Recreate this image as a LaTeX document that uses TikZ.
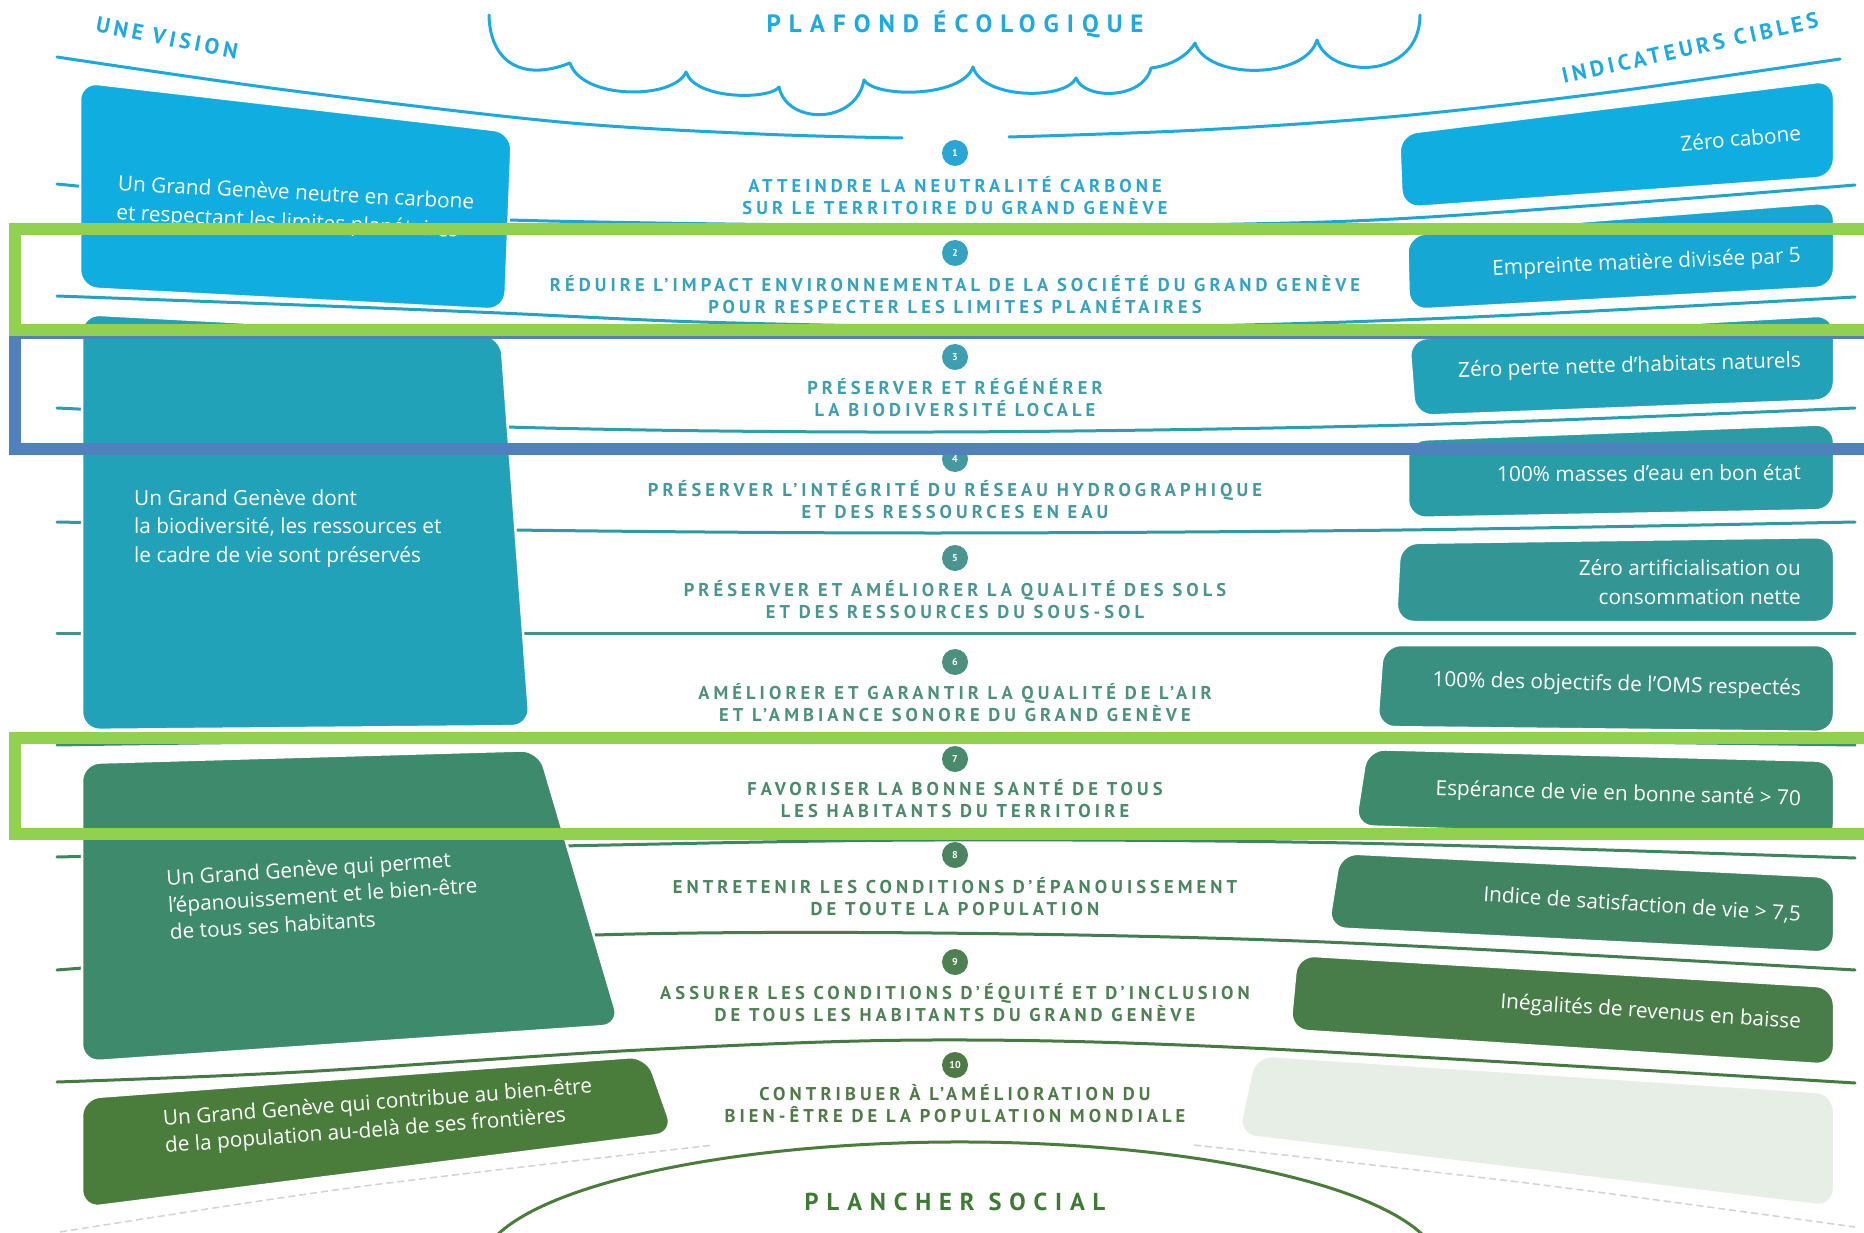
\documentclass[tikz,border=0pt]{standalone}
\usepackage{fontspec}
\setmainfont{Open Sans}
\newfontfamily\capsfont[LetterSpace=22]{PT Sans}
\newfontfamily\headfont[LetterSpace=32]{PT Sans}
\newfontfamily\sidefont[LetterSpace=18]{PT Sans}
\newfontfamily\numfont{PT Sans}
\definecolor{cA}{HTML}{10AEE0}
\definecolor{cRb}{HTML}{16A8D3}
\definecolor{cB}{HTML}{21A2B8}
\definecolor{cRd}{HTML}{2A9CA6}
\definecolor{cRe}{HTML}{339694}
\definecolor{cRf}{HTML}{3A9080}
\definecolor{cC}{HTML}{3E8A6C}
\definecolor{cRh}{HTML}{418462}
\definecolor{cRi}{HTML}{487C48}
\definecolor{cD}{HTML}{4A7D3C}
\definecolor{cRj}{HTML}{E7EEE5}
\definecolor{tA}{HTML}{2AA6D6}
\definecolor{tB}{HTML}{34A2C0}
\definecolor{tC}{HTML}{3D9FAF}
\definecolor{tD}{HTML}{43999F}
\definecolor{tE}{HTML}{4A9590}
\definecolor{tF}{HTML}{4C907E}
\definecolor{tG}{HTML}{4A8A6C}
\definecolor{tH}{HTML}{4A855F}
\definecolor{tI}{HTML}{4D8152}
\definecolor{tJ}{HTML}{4E7B45}
\definecolor{plaf}{HTML}{1DA9E1}
\definecolor{planch}{HTML}{3E7A33}
\definecolor{sA}{HTML}{1CA9DD}
\definecolor{sB}{HTML}{1FA6D0}
\definecolor{sC}{HTML}{22A3C2}
\definecolor{sD}{HTML}{29A0B0}
\definecolor{sE}{HTML}{2F9AA2}
\definecolor{sF}{HTML}{3E9590}
\definecolor{sG}{HTML}{3F8C70}
\definecolor{sH}{HTML}{3F8560}
\definecolor{sI}{HTML}{427E50}
\definecolor{sJ}{HTML}{467A42}
\definecolor{hlgreen}{HTML}{92D050}
\definecolor{hlblue}{HTML}{4F81BD}
\tikzset{
  sepline/.style={line width=3, line cap=round},
  faint/.style={line width=1.5, gray!35, dash pattern=on 7pt off 4pt},
  boxshape/.style={draw=white, line width=2.5, rounded corners=18},
  boxtxt/.style={text=white, inner sep=0, font=\fontsize{20.8}{24}\selectfont},
  lab/.style={align=center, inner sep=0, font=\capsfont\bfseries\fontsize{18.5}{22}\selectfont},
  numc/.style={circle, minimum size=26, inner sep=0, text=white, font=\numfont\bfseries\fontsize{10}{10}\selectfont},
  head/.style={inner sep=0, font=\headfont\bfseries\fontsize{25}{26}\selectfont, text=plaf},
  side/.style={inner sep=0, font=\sidefont\bfseries\fontsize{22}{24}\selectfont, text=plaf},
  hlbox/.style={line width=12}
}
\begin{document}
\begin{tikzpicture}[x=1pt, y=-1pt]
\useasboundingbox (0,0) rectangle (1864,1233);
\fill[white] (0,0) rectangle (1864,1233);
\clip (0,0) rectangle (1864,1233);

% separators
\draw[sepline, sA] plot[smooth, tension=0.55] coordinates {(57,57) (286,90) (560,122) (760,134) (902,138)};
\draw[sepline, sA] plot[smooth, tension=0.55] coordinates {(1009,137) (1200,130) (1400,116) (1611,92) (1840,59)};
\draw[sepline, sB] plot[smooth, tension=0.55] coordinates {(57,184) (300,207) (509,220) (955,226) (1325,222) (1600,205) (1855,185)};
\draw[sepline, sC] plot[smooth, tension=0.55] coordinates {(57,296) (300,305) (500,313) (700,322) (955,327) (1200,326) (1473,317) (1855,297)};
\draw[sepline, sD] plot[smooth, tension=0.55] coordinates {(57,408) (506,427) (933,432) (1408,425) (1855,408)};
\draw[sepline, sE] plot[smooth, tension=0.55] coordinates {(57,522) (512,530) (933,533) (1402,530) (1855,522)};
\draw[sepline, sF] (57,633) -- (1855,633);
\draw[sepline, sG] plot[smooth, tension=0.55] coordinates {(57,745) (300,742) (933,738) (1500,741) (1855,745)};
\draw[sepline, sH] plot[smooth, tension=0.55] coordinates {(57,857) (560,846) (933,840) (1350,843) (1855,858)};
\draw[sepline, sI] plot[smooth, tension=0.55] coordinates {(57,970) (300,952) (595,935) (933,933) (1325,942) (1855,970)};
\draw[sepline, sJ] plot[smooth, tension=0.55] coordinates {(57,1082) (300,1072) (640,1050) (930,1040) (1250,1048) (1855,1083)};
\draw[sepline, cD] (960,1268.5) ++(194:480 and 126.5) arc[start angle=194, end angle=346, x radius=480, y radius=126.5];
\draw[faint] plot[smooth] coordinates {(60,1232) (357,1187) (714,1145)};
\draw[faint] plot[smooth] coordinates {(1194,1145) (1527,1183) (1855,1227)};

% left boxes
\path[boxshape, fill=cA] (80,82) -- (512,132) -- (505,310) -- (80,288) -- cycle;
\path[boxshape, fill=cB] (82,314) -- (501,336) -- (530,726) -- (82,730) -- cycle;
\path[boxshape, fill=cC] (82,763) -- (539,750) -- (620,1025) -- (82,1062) -- cycle;
\path[boxshape, fill=cD] (82,1098) -- (647,1056) -- (674,1133) -- (82,1208) -- cycle;

% right boxes
\path[boxshape, fill=cA]  (1399,134) -- (1834,80) -- (1834,177) -- (1402,208) -- cycle;
\path[boxshape, fill=cRb] (1407,235) -- (1834,202) -- (1834,287) -- (1409,310) -- cycle;
\path[boxshape, fill=cB]  (1409,339) -- (1834,315) -- (1834,400) -- (1415,416) -- cycle;
\path[boxshape, fill=cRd] (1408,440) -- (1834,424) -- (1834,510) -- (1408,518) -- cycle;
\path[boxshape, fill=cRe] (1400,543) -- (1834,537) -- (1834,622) -- (1396,622) -- cycle;
\path[boxshape, fill=cRf] (1383,645) -- (1834,645) -- (1834,732) -- (1377,727) -- cycle;
\path[boxshape, fill=cC]  (1367,749) -- (1834,761) -- (1834,842) -- (1355,826) -- cycle;
\path[boxshape, fill=cRh] (1340,853) -- (1834,877) -- (1834,953) -- (1328,928) -- cycle;
\path[boxshape, fill=cRi] (1297,955) -- (1834,987) -- (1834,1065) -- (1290,1030) -- cycle;
\path[boxshape, fill=cRj] (1255,1055) -- (1834,1093) -- (1834,1207) -- (1238,1135) -- cycle;

% left box texts
\node[boxtxt, align=left, anchor=west, rotate=-3, font=\fontsize{20.8}{29}\selectfont] (la) at (117,199.5) {Un Grand Genève neutre en carbone\\et respectant les limites planétaires};
\node[boxtxt, align=left, anchor=west, font=\fontsize{20.8}{28.5}\selectfont] (lb) at (134,528.5) {Un Grand Genève dont\\la biodiversité, les ressources et\\le cadre de vie sont préservés};
\node[boxtxt, align=left, anchor=west, rotate=3.7, font=\fontsize{20.8}{27}\selectfont] (lc) at (168,905) {Un Grand Genève qui permet\\l’épanouissement et le bien-être\\de tous ses habitants};
\node[boxtxt, align=left, anchor=west, rotate=4.4, font=\fontsize{20.8}{27}\selectfont] (ld) at (164,1134) {Un Grand Genève qui contribue au bien-être\\de la population au-delà de ses frontières};

% right box texts
\node[boxtxt, anchor=east, rotate=4.9] (r1) at (1801,133) {Zéro cabone};
\node[boxtxt, anchor=east, rotate=2.4] (r2) at (1801,257) {Empreinte matière divisée par 5};
\node[boxtxt, anchor=east, rotate=1.6] (r3) at (1801,362) {Zéro perte nette d’habitats naturels};
\node[boxtxt, anchor=east, rotate=0.4] (r4) at (1801,472) {100\% masses d’eau en bon état};
\node[boxtxt, align=right, anchor=east, font=\fontsize{20.8}{29}\selectfont] (r5) at (1801,582.5) {Zéro artificialisation ou\\consommation nette};
\node[boxtxt, anchor=east, rotate=-1.4] (r6) at (1801,690) {100\% des objectifs de l’OMS respectés};
\node[boxtxt, anchor=east, rotate=-1.6] (r7) at (1801,800) {Espérance de vie en bonne santé > 70};
\node[boxtxt, anchor=east, rotate=-3.6] (r8) at (1801,915) {Indice de satisfaction de vie > 7,5};
\node[boxtxt, anchor=east, rotate=-3.8] (r9) at (1801,1023) {Inégalités de revenus en baisse};

% cloud
\draw[plaf, line width=3, line cap=round, line join=round] (489,15)
 .. controls (490,62) and (522,82) .. (570,63)
 .. controls (582,100) and (674,100) .. (686,72)
 .. controls (695,100) and (770,100) .. (779,87)
 .. controls (787,125) and (856,125) .. (864,80)
 .. controls (875,98) and (962,98) .. (973,67)
 .. controls (983,100) and (1066,100) .. (1076,78)
 .. controls (1084,100) and (1143,100) .. (1151,68)
 .. controls (1168,66) and (1186,58) .. (1195,43)
 .. controls (1207,80) and (1305,80) .. (1317,40)
 .. controls (1330,80) and (1420,80) .. (1420,15);

% headings
\node[head] (plafond) at (955,24) {PLAFOND ÉCOLOGIQUE};
\node[side, rotate=-11] (vision) at (167,38) {UNE VISION};
\node[side, rotate=12.5] (indic) at (1690,48) {INDICATEURS CIBLES};
\node[head, text=planch, font=\headfont\bfseries\fontsize{24.5}{26}\selectfont] (plancher) at (955,1202) {PLANCHER SOCIAL};

% numbered objectives
\node[numc, fill=tA] (n1) at (955,153) {1};
\node[lab, text=tA] (o1) at (955,196) {ATTEINDRE LA NEUTRALITÉ CARBONE\\SUR LE TERRITOIRE DU GRAND GENÈVE};
\node[numc, fill=tB] (n2) at (955,253) {2};
\node[lab, text=tB] (o2) at (955,295) {RÉDUIRE L’IMPACT ENVIRONNEMENTAL DE LA SOCIÉTÉ DU GRAND GENÈVE\\POUR RESPECTER LES LIMITES PLANÉTAIRES};
\node[numc, fill=tC] (n3) at (955,357) {3};
\node[lab, text=tC] (o3) at (955,397.5) {PRÉSERVER ET RÉGÉNÉRER\\LA BIODIVERSITÉ LOCALE};
\node[numc, fill=tD] (n4) at (955,459) {4};
\node[lab, text=tD] (o4) at (955,500) {PRÉSERVER L’INTÉGRITÉ DU RÉSEAU HYDROGRAPHIQUE\\ET DES RESSOURCES EN EAU};
\node[numc, fill=tE] (n5) at (955,558) {5};
\node[lab, text=tE] (o5) at (955,599.5) {PRÉSERVER ET AMÉLIORER LA QUALITÉ DES SOLS\\ET DES RESSOURCES DU SOUS-SOL};
\node[numc, fill=tF] (n6) at (955,662) {6};
\node[lab, text=tF] (o6) at (955,702.5) {AMÉLIORER ET GARANTIR LA QUALITÉ DE L’AIR\\ET L’AMBIANCE SONORE DU GRAND GENÈVE};
\node[numc, fill=tG] (n7) at (955,759) {7};
\node[lab, text=tG] (o7) at (955,799) {FAVORISER LA BONNE SANTÉ DE TOUS\\LES HABITANTS DU TERRITOIRE};
\node[numc, fill=tH] (n8) at (955,855) {8};
\node[lab, text=tH] (o8) at (955,896.5) {ENTRETENIR LES CONDITIONS D’ÉPANOUISSEMENT\\DE TOUTE LA POPULATION};
\node[numc, fill=tI] (n9) at (955,962) {9};
\node[lab, text=tI] (o9) at (955,1003) {ASSURER LES CONDITIONS D’ÉQUITÉ ET D’INCLUSION\\DE TOUS LES HABITANTS DU GRAND GENÈVE};
\node[numc, fill=tJ] (n10) at (955,1065) {10};
\node[lab, text=tJ] (o10) at (955,1104) {CONTRIBUER À L’AMÉLIORATION DU\\BIEN-ÊTRE DE LA POPULATION MONDIALE};

% highlight frames
\draw[hlbox, hlblue] (15,333) rectangle (1900,449);
\draw[hlbox, hlgreen] (15,229) rectangle (1900,330);
\draw[hlbox, hlgreen] (15,738) rectangle (1900,834);
\end{tikzpicture}
\end{document}
